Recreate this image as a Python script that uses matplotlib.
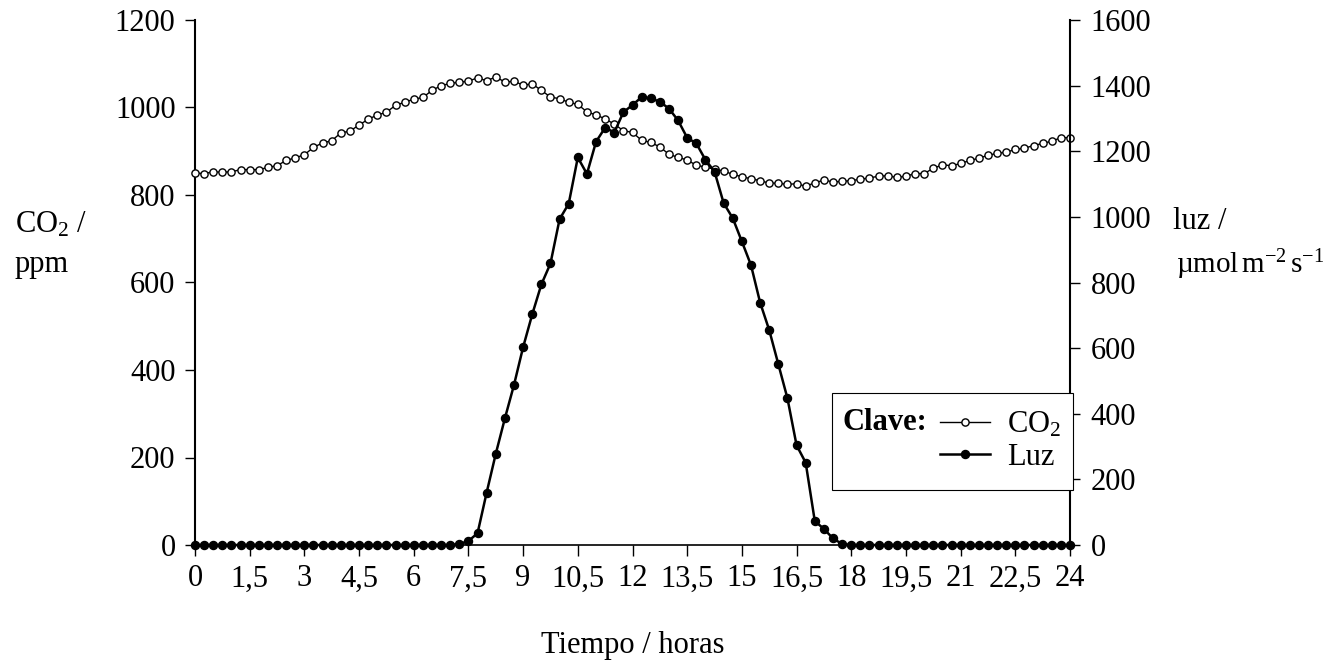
import matplotlib
matplotlib.use('Agg')
import matplotlib.pyplot as plt
from matplotlib.patches import Rectangle
import numpy as np

# time in hours, one reading every 15 minutes
hours = np.arange(0, 24.01, 0.25)

co2_ppm = [850, 849, 853, 852, 853, 858, 858, 858, 863, 867, 879, 885, 892, 909, 919, 924,
           942, 946, 960, 973, 983, 989, 1005, 1012, 1019, 1023, 1039, 1050, 1055, 1058, 1060,
           1068, 1061, 1070, 1058, 1060, 1051, 1054, 1039, 1024, 1020,
           1012, 1007, 990, 983, 974, 962, 947, 943, 925, 920, 910, 893, 886, 880, 868,
           864, 859, 855, 847, 842, 837, 833, 827, 827, 824, 826, 820, 828, 834, 830,
           831, 833, 836, 839, 843, 844, 840, 843, 849, 849, 861, 869, 867, 872, 879,
           884, 891, 895, 898, 904, 907, 913, 918, 923, 931, 931]

luz = [0] * 29 + [3, 12, 36, 160, 278, 386, 488, 603, 703, 794, 858, 993, 1040, 1181, 1131,
                  1229, 1272, 1257, 1319, 1341, 1365, 1361, 1351, 1330, 1294, 1241, 1224, 1174,
                  1138, 1042, 996, 925, 853, 739, 655, 551, 447, 304, 251, 73, 49, 20, 3] + [0] * 25

xticks = np.arange(0, 24.01, 1.5)
xtick_labels = ['0', '1,5', '3', '4,5', '6', '7,5', '9', '10,5', '12', '13,5', '15',
                '16,5', '18', '19,5', '21', '22,5', '24']
left_ticks = [0, 200, 400, 600, 800, 1000, 1200]
right_ticks = [0, 200, 400, 600, 800, 1000, 1200, 1400, 1600]

plt.rcParams['font.family'] = 'Liberation Serif'
plt.rcParams['mathtext.fontset'] = 'custom'
plt.rcParams['mathtext.rm'] = 'Liberation Serif'
plt.rcParams['mathtext.it'] = 'Liberation Serif:italic'
plt.rcParams['font.size'] = 22

W, H = 1334, 661
fig = plt.figure(figsize=(W / 100, H / 100), dpi=100)
ax = fig.add_axes([195 / W, 1 - 545 / H, 875 / W, 525 / H])
ax2 = ax.twinx()

# CO2 on the left axis
l_co2, = ax.plot(hours, co2_ppm, color='black', lw=1.0, marker='o', ms=5.2,
                 mfc='white', mec='black', mew=1.0, clip_on=False, zorder=3)
# light on the right axis
l_luz, = ax2.plot(hours, luz, color='black', lw=1.8, marker='o', ms=5.8,
                  mfc='black', mec='black', clip_on=False, zorder=3)

ax.set_xlim(0, 24)
ax.set_ylim(0, 1200)
ax2.set_ylim(0, 1600)
ax.set_xticks(xticks)
ax.set_xticklabels(xtick_labels)
ax.set_yticks(left_ticks)
ax2.set_yticks(right_ticks)

for s in ['top', 'right']:
    ax.spines[s].set_visible(False)
for s in ['top', 'left', 'bottom']:
    ax2.spines[s].set_visible(False)
ax.spines['left'].set_linewidth(1.5)
ax.spines['bottom'].set_linewidth(1.2)
ax2.spines['right'].set_linewidth(1.5)

ax.tick_params(axis='x', direction='out', length=8, width=1, pad=6)
ax.tick_params(axis='y', direction='out', length=7, width=1, pad=7)
ax2.tick_params(axis='y', direction='out', length=7, width=1, pad=8)

# axis titles
fig.text(15 / W, 1 - 225 / H, r'CO$_2$ /', ha='left', va='center')
fig.text(15 / W, 1 - 265 / H, 'ppm', ha='left', va='center')
fig.text(1173 / W, 1 - 222 / H, 'luz /', ha='left', va='center')
fig.text(1176 / W, 1 - 265 / H, r'µmol$\,$m$^{-2}\,$s$^{-1}$', ha='left', va='center',
         fontsize=21)
fig.text(633 / W, 1 - 653 / H, 'Tiempo / horas', ha='center', va='baseline')

# legend box with "Clave:"
fig.patches.append(Rectangle((832 / W, 1 - 490 / H), 241 / W, 97 / H, transform=fig.transFigure,
                             fill=True, facecolor='white', edgecolor='black', lw=0.8, zorder=5))
fig.text(842 / W, 1 - 423 / H, 'Clave:', weight='bold', ha='left', va='center', zorder=6)
leg = fig.legend([l_co2, l_luz], [r'CO$_2$', 'Luz'], loc='center left',
                 bbox_to_anchor=(940 / W, 1 - 441 / H), frameon=False, borderpad=0,
                 borderaxespad=0, handlelength=1.65, handletextpad=0.55, labelspacing=0.1)
leg.set_zorder(6)

plt.savefig('out.png', dpi=100)
